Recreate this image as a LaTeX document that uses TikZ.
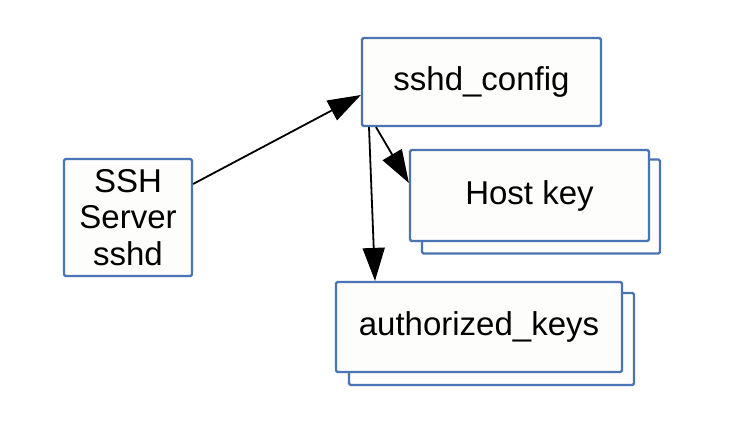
\documentclass[tikz,border=0pt]{standalone}
\usepackage{fontspec}
\setmainfont{Liberation Sans}
\usetikzlibrary{arrows.meta,positioning}
\definecolor{boxblue}{HTML}{4A74B4}
\definecolor{boxfill}{HTML}{FDFDFC}
\tikzset{
  filebox/.style={draw=boxblue, fill=boxfill, line width=2.2pt, rounded corners=1.5pt,
    inner sep=0pt, font=\fontsize{33}{36.5}\selectfont, align=center},
  arr/.style={line width=1.8pt, -{Triangle[length=33pt,width=22pt]}}
}
\begin{document}
\begin{tikzpicture}[x=1pt,y=-1pt]
\useasboundingbox[fill=white] (0,0) rectangle (734,435);
% nodes
\node[filebox, minimum width=128pt, minimum height=117pt] (ssh) at (128,217.5) {SSH\\Server\\sshd};
\node[filebox, minimum width=239pt, minimum height=88pt] (cfg) at (481.5,82) {sshd\_config};
\node[filebox, minimum width=238pt, minimum height=94pt] (hostback) at (541,206.5) {};
\node[filebox, minimum width=239pt, minimum height=91pt] (host) at (529.5,195.5) {Host key};
\node[filebox, minimum width=285pt, minimum height=92pt] (authback) at (491.5,339) {};
\node[filebox, minimum width=286pt, minimum height=90pt] (auth) at (479,327) {authorized\_keys};
% connectors
\draw[arr] ([yshift=33.5pt]ssh.east) -- ([yshift=-13pt]cfg.west);
\draw[arr] ([xshift=-105.5pt]cfg.south) -- ([yshift=12.5pt]host.west);
\draw[arr] ([xshift=-112.5pt]cfg.south) -- ([xshift=-104pt]auth.north);
\end{tikzpicture}
\end{document}
